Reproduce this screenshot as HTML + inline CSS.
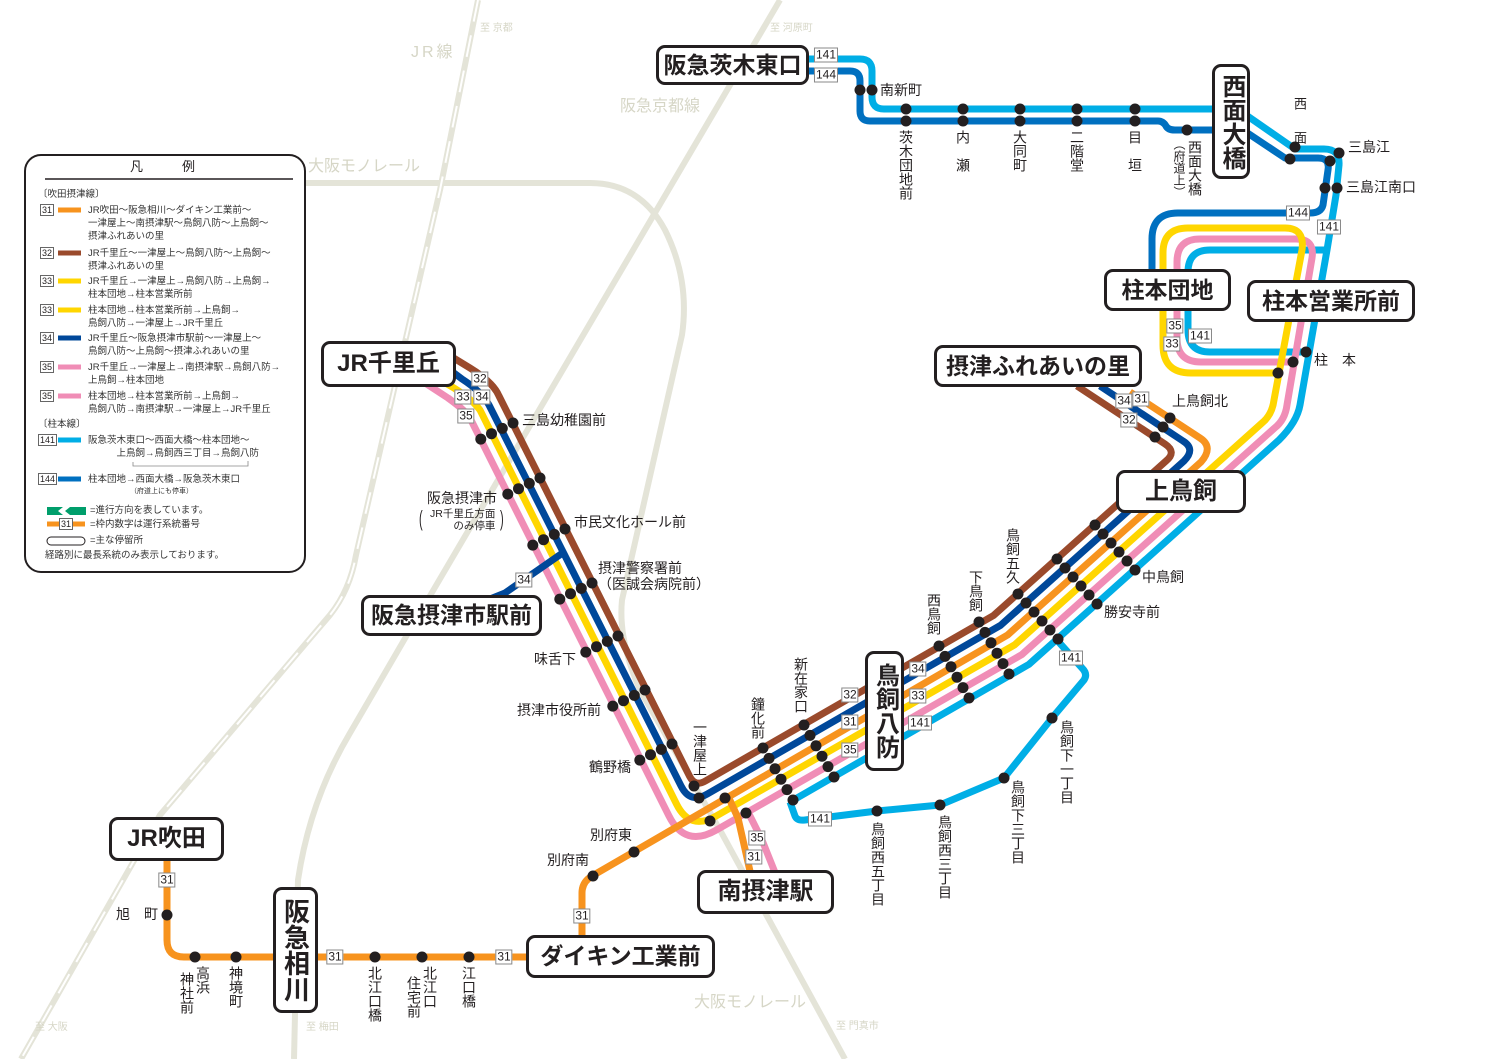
<!DOCTYPE html>
<html><head><meta charset="utf-8">
<style>
html,body{margin:0;padding:0;background:#fff;}
#w{position:relative;width:1500px;height:1059px;overflow:hidden;font-family:"Liberation Sans","Noto Sans CJK JP",sans-serif;color:#231f20;}
svg{position:absolute;left:0;top:0;}
.b{position:absolute;background:#fff;border:3px solid #231f20;border-radius:9px;box-sizing:border-box;display:flex;align-items:center;justify-content:center;font-size:23px;font-weight:bold;white-space:nowrap;line-height:1;}
.bv{writing-mode:vertical-rl;font-size:24px;}
.l{position:absolute;font-size:14px;line-height:1;white-space:nowrap;}
.v{position:absolute;font-size:14px;line-height:1;writing-mode:vertical-rl;white-space:nowrap;}
.n{position:absolute;border:1px solid #888;background:#fff;font-size:12px;line-height:13px;padding:0 1px;transform:translate(-50%,-50%);color:#231f20;}
.g{position:absolute;color:#d6d6c6;line-height:1;white-space:nowrap;}
.lg{position:absolute;font-size:9.5px;line-height:13px;white-space:nowrap;color:#333;}
.ln{position:absolute;border:1px solid #666;font-size:9px;line-height:10px;padding:0 1px;background:#fff;}
</style></head><body><div id="w">
<svg width="1500" height="1059" viewBox="0 0 1500 1059">
<g fill="none" stroke="#e4e4d8" stroke-width="6" stroke-linejoin="round" stroke-linecap="butt">
<path d="M478,0 L440,190 L356,555 Q350,590 330,615 L160,815 L21,1059"/>
<path d="M780,0 L407,635 L350,733 Q310,800 298,880 L294,1059"/>
<path d="M305,183 L590,183 Q640,183 665,230 Q690,280 682,335 L622,600 Q618,640 640,690 L720,830 L845,1059"/>
</g>
<g fill="none" stroke="#fff" stroke-width="2" stroke-dasharray="22 14">
<path d="M478,0 L440,190 L356,555 Q350,590 330,615 L160,815 L21,1059"/>
</g>
<g fill="none" stroke-width="7" stroke-linejoin="round" stroke-linecap="butt">
<path stroke="#0070c0" d="M808,71 L850,71 Q860,71 860,81 L860,111 Q860,121 870,121 L1158,121 Q1163,121 1166,126 Q1168,130 1175,130 L1215,130"/>
<path stroke="#0070c0" d="M1246,132 L1285,158 L1318,158 Q1330,158 1328,170 L1323,205 Q1321,213 1310,213 L1178,213 Q1152,213 1152,239 L1152,280"/>
<path stroke="#00aee6" d="M808,59 L860,59 Q872,59 872,71 L872,97 Q872,109 884,109 L1215,109"/>
<path stroke="#00aee6" d="M790,802 L1028.9,664.4 L1279,440 Q1297,422 1300,405 L1327,250 L1336,195 L1339,165 Q1340,149 1324,149 L1295,149 L1246,115"/>
<path stroke="#00aee6" d="M1327,250 L1210,250 Q1188,250 1188,272 L1188,330 Q1188,352 1210,352 L1309,352"/>
<path stroke="#00aee6" d="M790,802 L795,816 Q797,821 805,820 L877,811 L940,805 L1004,778 L1052,718 L1084,680 Q1088,674 1082,668 L1056,639"/>
<path stroke="#f08db6" d="M425,383 L448,398 Q462,408 469,416 L668.9,815.8 Q685,848 716.2,830.1 L1021.8,654.6 L1274.6,428 Q1285,420 1287,405 L1312,258 Q1315,239 1296,239 L1200,239 Q1177,239 1177,262 L1177,338 Q1177,362 1201,362 L1294,362"/>
<path stroke="#f08db6" d="M748,812 L762,840 L778,880"/>
<path stroke="#ffd600" d="M440,380 Q470,396 480,410 L676.6,804.2 Q690,831 716,816.1 L1014.7,644.8 L1262,423 Q1272,415 1274,400 L1302,250 Q1305,228 1285,228 L1188,228 Q1163,228 1163,253 L1163,345 Q1163,373 1191,373 L1279,373"/>
<path stroke="#f7931e" d="M167,860 L167,940 Q167,957 184,957 L530,957"/>
<path stroke="#f7931e" d="M582,940 L582,893 Q582,882 592,876 L1007.6,635 L1201,462 Q1214,447 1200,438 L1130,392"/>
<path stroke="#f7931e" d="M728,796 L738,818 L752,880"/>
<path stroke="#00489a" d="M450,370 L462,379 Q482,392 489,405 L681.1,786.1 Q690,804 707.3,794 L1000.6,625.3 L1184,461 Q1196,449 1183,441 L1100,386"/>
<path stroke="#00489a" d="M564,552 L505,593 L480,603"/>
<path stroke="#9a4a2c" d="M452,357 L470,368 Q493,382 499,396 L689.6,776.3 Q695,787 705.4,781 L993.5,615.5 L1166,461 Q1177,452 1165,444 L1077,386"/>
</g>
<g fill="#231f20">
<g id="r1">
<circle cx="513" cy="423" r="5.5"/><circle cx="502.3" cy="428.4" r="5.5"/><circle cx="491.5" cy="433.7" r="5.5"/><circle cx="480.8" cy="439.1" r="5.5"/>
</g>
<use href="#r1" transform="translate(27,55)"/>
<use href="#r1" transform="translate(52,106)"/>
<use href="#r1" transform="translate(79,160)"/>
<use href="#r1" transform="translate(105,213)"/>
<use href="#r1" transform="translate(132,267)"/>
<use href="#r1" transform="translate(159,321)"/>
<circle cx="694" cy="786" r="5.5"/><circle cx="699" cy="798" r="5.5"/><circle cx="725" cy="798" r="5.5"/><circle cx="710" cy="821" r="5.5"/><circle cx="746" cy="813" r="5.5"/>
<g id="r2">
<circle cx="763" cy="748" r="5.5"/><circle cx="769" cy="758.4" r="5.5"/><circle cx="775" cy="768.8" r="5.5"/><circle cx="781" cy="779.2" r="5.5"/><circle cx="787" cy="789.6" r="5.5"/><circle cx="793" cy="800" r="5.5"/>
</g>
<use href="#r2" transform="translate(41,-23)"/>
<use href="#r2" transform="translate(176,-102)"/>
<use href="#r2" transform="translate(216,-126)"/>
<g id="r3">
<circle cx="1018" cy="594" r="5.5"/><circle cx="1026" cy="603" r="5.5"/><circle cx="1034" cy="612" r="5.5"/><circle cx="1042" cy="621" r="5.5"/><circle cx="1050" cy="630" r="5.5"/><circle cx="1058" cy="639" r="5.5"/>
</g>
<use href="#r3" transform="translate(39,-35)"/>
<use href="#r3" transform="translate(77,-69)"/>
<circle cx="1155" cy="437" r="5.5"/><circle cx="1163" cy="427" r="5.5"/><circle cx="1170" cy="418" r="5.5"/>
<circle cx="1278" cy="373" r="5.5"/><circle cx="1293" cy="362" r="5.5"/><circle cx="1306" cy="352" r="5.5"/>
<circle cx="860" cy="90" r="5.5"/><circle cx="872" cy="90" r="5.5"/>
<circle cx="906" cy="109" r="5.5"/><circle cx="906" cy="121" r="5.5"/>
<circle cx="963" cy="109" r="5.5"/><circle cx="963" cy="121" r="5.5"/>
<circle cx="1020" cy="109" r="5.5"/><circle cx="1020" cy="121" r="5.5"/>
<circle cx="1077" cy="109" r="5.5"/><circle cx="1077" cy="121" r="5.5"/>
<circle cx="1135" cy="109" r="5.5"/><circle cx="1135" cy="121" r="5.5"/>
<circle cx="1187" cy="130" r="5.5"/>
<circle cx="1295" cy="147" r="5.5"/><circle cx="1290" cy="159" r="5.5"/>
<circle cx="1339" cy="153" r="5.5"/><circle cx="1330" cy="161" r="5.5"/>
<circle cx="1337" cy="188" r="5.5"/><circle cx="1325" cy="188" r="5.5"/>
<circle cx="877" cy="811" r="5.5"/><circle cx="940" cy="805" r="5.5"/><circle cx="1004" cy="778" r="5.5"/><circle cx="1052" cy="718" r="5.5"/>
<circle cx="167" cy="915" r="5.5"/><circle cx="195" cy="957" r="5.5"/><circle cx="236" cy="957" r="5.5"/><circle cx="375" cy="957" r="5.5"/><circle cx="422" cy="957" r="5.5"/><circle cx="469" cy="957" r="5.5"/><circle cx="593" cy="876" r="5.5"/><circle cx="634" cy="852" r="5.5"/>
</g>
<rect x="25" y="155" width="280" height="417" rx="16" fill="#fff" stroke="#231f20" stroke-width="2"/>
<line x1="45" y1="179" x2="293" y2="179" stroke="#231f20" stroke-width="1.5"/>
<g stroke-width="5">
<line x1="58" x2="81" y1="210" y2="210" stroke="#f7931e"/>
<line x1="58" x2="81" y1="253" y2="253" stroke="#9a4a2c"/>
<line x1="58" x2="81" y1="281" y2="281" stroke="#ffd600"/>
<line x1="58" x2="81" y1="310" y2="310" stroke="#ffd600"/>
<line x1="58" x2="81" y1="338" y2="338" stroke="#00489a"/>
<line x1="58" x2="81" y1="367" y2="367" stroke="#f08db6"/>
<line x1="58" x2="81" y1="396" y2="396" stroke="#f08db6"/>
<line x1="58" x2="81" y1="440" y2="440" stroke="#00aee6"/>
<line x1="58" x2="81" y1="479" y2="479" stroke="#0070c0"/>
<line x1="47" x2="85" y1="524" y2="524" stroke="#f7931e"/>
</g>
<path d="M133,462 L133,466 L248,466 L248,461" fill="none" stroke="#888" stroke-width="0.8"/>
<path d="M47,507 L63,507 L58,511 L63,515 L47,515 Z M86,507 L70,507 L65,511 L70,515 L86,515 Z" fill="#009e6b"/>
<rect x="47" y="537" width="38" height="8" rx="4" fill="#fff" stroke="#231f20" stroke-width="1"/>
</svg>

<div class="b" style="left:656px;top:45px;width:153px;height:40px;">阪急茨木東口</div>
<div class="b bv" style="left:1212px;top:64px;width:38px;height:115px;">西面大橋</div>
<div class="b" style="left:1104px;top:269px;width:127px;height:42px;">柱本団地</div>
<div class="b" style="left:1247px;top:280px;width:168px;height:42px;">柱本営業所前</div>
<div class="b" style="left:934px;top:345px;width:208px;height:42px;">摂津ふれあいの里</div>
<div class="b" style="left:321px;top:341px;width:135px;height:46px;font-size:24px;">JR千里丘</div>
<div class="b" style="left:1116px;top:470px;width:130px;height:43px;font-size:24px;">上鳥飼</div>
<div class="b" style="left:361px;top:595px;width:181px;height:41px;">阪急摂津市駅前</div>
<div class="b bv" style="left:865px;top:651px;width:39px;height:120px;">鳥飼八防</div>
<div class="b" style="left:697px;top:870px;width:137px;height:44px;font-size:24px;">南摂津駅</div>
<div class="b" style="left:109px;top:817px;width:115px;height:44px;font-size:24px;">JR吹田</div>
<div class="b bv" style="left:273px;top:887px;width:45px;height:126px;font-size:26px;">阪急相川</div>
<div class="b" style="left:526px;top:935px;width:189px;height:43px;">ダイキン工業前</div>

<div class="n" style="left:826px;top:55px;">141</div>
<div class="n" style="left:826px;top:75px;">144</div>
<div class="n" style="left:1298px;top:213px;">144</div>
<div class="n" style="left:1329px;top:227px;">141</div>
<div class="n" style="left:1175px;top:326px;">35</div>
<div class="n" style="left:1200px;top:336px;">141</div>
<div class="n" style="left:1172px;top:344px;">33</div>
<div class="n" style="left:1124px;top:401px;">34</div>
<div class="n" style="left:1141px;top:399px;">31</div>
<div class="n" style="left:1129px;top:420px;">32</div>
<div class="n" style="left:480px;top:379px;">32</div>
<div class="n" style="left:463px;top:397px;">33</div>
<div class="n" style="left:482px;top:397px;">34</div>
<div class="n" style="left:466px;top:416px;">35</div>
<div class="n" style="left:524px;top:580px;">34</div>
<div class="n" style="left:850px;top:695px;">32</div>
<div class="n" style="left:850px;top:722px;">31</div>
<div class="n" style="left:850px;top:750px;">35</div>
<div class="n" style="left:918px;top:669px;">34</div>
<div class="n" style="left:918px;top:696px;">33</div>
<div class="n" style="left:920px;top:723px;">141</div>
<div class="n" style="left:1071px;top:658px;">141</div>
<div class="n" style="left:820px;top:819px;">141</div>
<div class="n" style="left:757px;top:838px;">35</div>
<div class="n" style="left:754px;top:857px;">31</div>
<div class="n" style="left:167px;top:880px;">31</div>
<div class="n" style="left:335px;top:957px;">31</div>
<div class="n" style="left:504px;top:957px;">31</div>
<div class="n" style="left:582px;top:916px;">31</div>

<div class="l" style="left:880px;top:83px;">南新町</div>
<div class="v" style="left:899px;top:130px;">茨木団地前</div>
<div class="v" style="left:956px;top:130px;">内　瀬</div>
<div class="v" style="left:1013px;top:130px;">大同町</div>
<div class="v" style="left:1070px;top:130px;">二階堂</div>
<div class="v" style="left:1128px;top:130px;">目　垣</div>
<div class="v" style="left:1188px;top:140px;">西面大橋</div>
<div class="v" style="left:1173px;top:138px;font-size:12px;">（府道上）</div>
<div class="v" style="left:1293px;top:97px;font-size:13px;letter-spacing:4px;">西　面</div>
<div class="l" style="left:1348px;top:140px;">三島江</div>
<div class="l" style="left:1346px;top:180px;">三島江南口</div>
<div class="l" style="left:1172px;top:394px;">上鳥飼北</div>
<div class="l" style="left:1314px;top:353px;">柱　本</div>
<div class="l" style="left:1142px;top:570px;">中鳥飼</div>
<div class="l" style="left:1104px;top:605px;">勝安寺前</div>
<div class="v" style="left:1006px;top:528px;">鳥飼五久</div>
<div class="v" style="left:969px;top:570px;">下鳥飼</div>
<div class="v" style="left:927px;top:593px;">西鳥飼</div>
<div class="v" style="left:794px;top:657px;">新在家口</div>
<div class="v" style="left:751px;top:697px;">鐘化前</div>
<div class="v" style="left:693px;top:720px;">一津屋上</div>
<div class="v" style="left:1060px;top:720px;">鳥飼下一丁目</div>
<div class="v" style="left:1011px;top:780px;">鳥飼下三丁目</div>
<div class="v" style="left:938px;top:815px;">鳥飼西三丁目</div>
<div class="v" style="left:871px;top:822px;">鳥飼西五丁目</div>
<div class="l" style="left:522px;top:413px;">三島幼稚園前</div>
<div class="l" style="left:427px;top:491px;">阪急摂津市</div>
<div class="l" style="left:430px;top:508px;font-size:10.5px;line-height:12px;text-align:right;">JR千里丘方面<br>のみ停車</div>
<div class="l" style="left:419px;top:508px;font-size:22px;font-weight:lighter;transform:scaleX(0.5);transform-origin:left;">(</div>
<div class="l" style="left:500px;top:508px;font-size:22px;font-weight:lighter;transform:scaleX(0.5);transform-origin:left;">)</div>
<div class="l" style="left:574px;top:515px;">市民文化ホール前</div>
<div class="l" style="left:598px;top:561px;">摂津警察署前</div>
<div class="l" style="left:598px;top:577px;">（医誠会病院前）</div>
<div class="l" style="left:534px;top:652px;">味舌下</div>
<div class="l" style="left:517px;top:703px;">摂津市役所前</div>
<div class="l" style="left:589px;top:760px;">鶴野橋</div>
<div class="l" style="left:590px;top:828px;">別府東</div>
<div class="l" style="left:547px;top:853px;">別府南</div>
<div class="l" style="left:116px;top:907px;">旭　町</div>
<div class="v" style="left:196px;top:966px;">高浜</div>
<div class="v" style="left:180px;top:972px;">神社前</div>
<div class="v" style="left:229px;top:966px;">神境町</div>
<div class="v" style="left:368px;top:966px;">北江口橋</div>
<div class="v" style="left:423px;top:966px;">北江口</div>
<div class="v" style="left:407px;top:976px;">住宅前</div>
<div class="v" style="left:462px;top:966px;">江口橋</div>

<div class="g" style="left:480px;top:24px;font-size:10px;">至 京都</div>
<div class="g" style="left:411px;top:45px;font-size:16px;letter-spacing:3px;">JR線</div>
<div class="g" style="left:770px;top:24px;font-size:10px;">至 河原町</div>
<div class="g" style="left:620px;top:99px;font-size:16px;">阪急京都線</div>
<div class="g" style="left:308px;top:159px;font-size:16px;">大阪モノレール</div>
<div class="g" style="left:694px;top:995px;font-size:16px;">大阪モノレール</div>
<div class="g" style="left:35px;top:1023px;font-size:10px;">至 大阪</div>
<div class="g" style="left:306px;top:1023px;font-size:10px;">至 梅田</div>
<div class="g" style="left:836px;top:1022px;font-size:10px;">至 門真市</div>

<div class="l" style="left:130px;top:160px;font-size:13px;">凡　　　例</div>
<div class="lg" style="left:38px;top:188px;">〔吹田摂津線〕</div>
<div class="ln" style="left:40px;top:204px;">31</div>
<div class="lg" style="left:88px;top:204px;">JR吹田～阪急相川～ダイキン工業前～<br>一津屋上～南摂津駅～鳥飼八防～上鳥飼～<br>摂津ふれあいの里</div>
<div class="ln" style="left:40px;top:247px;">32</div>
<div class="lg" style="left:88px;top:247px;">JR千里丘～一津屋上～鳥飼八防～上鳥飼～<br>摂津ふれあいの里</div>
<div class="ln" style="left:40px;top:275px;">33</div>
<div class="lg" style="left:88px;top:275px;">JR千里丘→一津屋上→鳥飼八防→上鳥飼→<br>柱本団地→柱本営業所前</div>
<div class="ln" style="left:40px;top:304px;">33</div>
<div class="lg" style="left:88px;top:304px;">柱本団地→柱本営業所前→上鳥飼→<br>鳥飼八防→一津屋上→JR千里丘</div>
<div class="ln" style="left:40px;top:332px;">34</div>
<div class="lg" style="left:88px;top:332px;">JR千里丘～阪急摂津市駅前～一津屋上～<br>鳥飼八防～上鳥飼～摂津ふれあいの里</div>
<div class="ln" style="left:40px;top:361px;">35</div>
<div class="lg" style="left:88px;top:361px;">JR千里丘→一津屋上→南摂津駅→鳥飼八防→<br>上鳥飼→柱本団地</div>
<div class="ln" style="left:40px;top:390px;">35</div>
<div class="lg" style="left:88px;top:390px;">柱本団地→柱本営業所前→上鳥飼→<br>鳥飼八防→南摂津駅→一津屋上→JR千里丘</div>
<div class="lg" style="left:38px;top:418px;">〔柱本線〕</div>
<div class="ln" style="left:38px;top:434px;">141</div>
<div class="lg" style="left:88px;top:434px;">阪急茨木東口～西面大橋～柱本団地～<br>　　　上鳥飼→鳥飼西三丁目→鳥飼八防</div>
<div class="ln" style="left:38px;top:473px;">144</div>
<div class="lg" style="left:88px;top:473px;">柱本団地→西面大橋→阪急茨木東口</div>
<div class="lg" style="left:130px;top:485px;font-size:7px;">（府道上にも停車）</div>
<div class="lg" style="left:90px;top:504px;">=進行方向を表しています。</div>
<div class="ln" style="left:59px;top:518px;">31</div>
<div class="lg" style="left:90px;top:518px;">=枠内数字は運行系統番号</div>
<div class="lg" style="left:90px;top:534px;">=主な停留所</div>
<div class="lg" style="left:45px;top:549px;">経路別に最長系統のみ表示しております。</div>
</div></body></html>
